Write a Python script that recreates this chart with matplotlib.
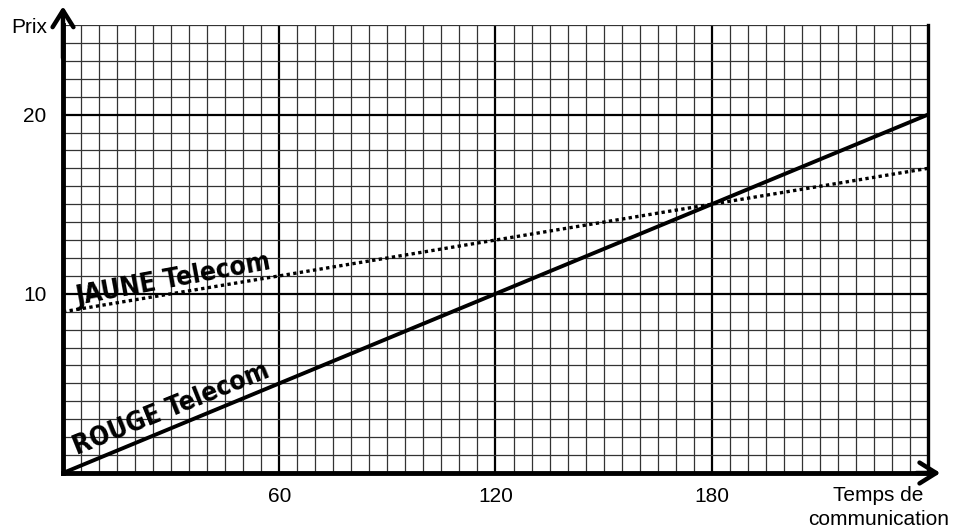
import numpy as np
import matplotlib.pyplot as plt
from matplotlib import font_manager

# Donnees
temps = [0, 240]
prix_rouge = [0, 20]
prix_jaune = [9, 17]

xticks = [60, 120, 180]
yticks = [10, 20]

plt.rcParams['font.family'] = ['Liberation Sans', 'DejaVu Sans']

# police etroite pour les etiquettes si disponible
narrow = [f.name for f in font_manager.fontManager.ttflist
          if f.stretch in ('condensed', 'semi-condensed', 'extra-condensed') and f.weight in ('bold', 700)]
if narrow:
    lab = dict(family=narrow[0], fontstretch='condensed', fontsize=19)
else:
    lab = dict(family='Open Sans', fontsize=15.5)

fig = plt.figure(figsize=(9.61, 5.29), dpi=100)
ax = fig.add_axes([63 / 961, 56 / 529, 865 / 961, 448 / 529])
ax.set_xlim(0, 240)
ax.set_ylim(0, 25)

# grille millimetree
for x in np.arange(5, 240, 5):
    major = x % 60 == 0
    ax.axvline(x, color='black' if major else '#333333', lw=1.6 if major else 0.9, zorder=1)
for y in np.arange(1, 26, 1):
    major = y % 10 == 0
    ax.axhline(y, color='black' if major else '#333333', lw=1.6 if major else 0.9, zorder=1)

ax.spines['top'].set_visible(False)
ax.spines['left'].set_linewidth(3.5)
ax.spines['bottom'].set_linewidth(3.5)
ax.spines['right'].set_linewidth(2.4)

ax.plot(temps, prix_rouge, color='black', lw=2.8, solid_capstyle='butt', zorder=3)
ax.plot(temps, prix_jaune, color='black', lw=2.4, linestyle=(0, (1, 1)), zorder=3)

ax.text(30.5, 10.75, 'JAUNE Telecom', rotation=10.5, ha='center', va='center',
        fontweight='bold', zorder=4, **lab)
ax.text(30, 3.55, 'ROUGE Telecom', rotation=22, ha='center', va='center',
        fontweight='bold', zorder=4, **lab)

ax.set_xticks(xticks)
ax.set_yticks(yticks)
ax.tick_params(axis='both', length=0, labelsize=15)
ax.tick_params(axis='x', pad=10)
ax.tick_params(axis='y', pad=12)

# fleches des axes
head = dict(arrowstyle='->,head_length=1.2,head_width=0.75', lw=3.2, color='black')
ax.annotate('', xy=(0, 26.2), xytext=(0, 23), annotation_clip=False, arrowprops=head)
ax.annotate('', xy=(244.2, 0), xytext=(236, 0), annotation_clip=False, arrowprops=head)

ax.text(-4.5, 24.85, 'Prix', ha='right', va='center', fontsize=15)
ax.text(226.3, -0.75, 'Temps de\ncommunication', ha='center', va='top', fontsize=15, linespacing=1.3)

fig.savefig('out.png', dpi=100)
